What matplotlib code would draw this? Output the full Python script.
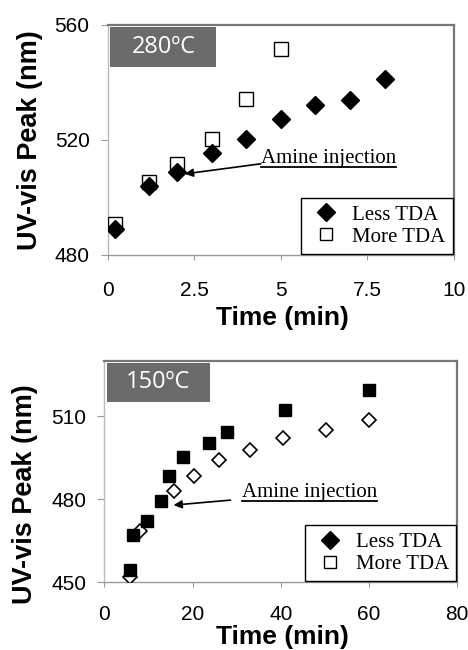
import matplotlib
matplotlib.use('Agg')
import matplotlib.pyplot as plt
from matplotlib.lines import Line2D
from matplotlib.patches import Rectangle

plt.rcParams.update({'font.family': 'Liberation Sans'})

# 280 C panel
t280_less = [0.2, 1.2, 2, 3, 4, 5, 6, 7, 8]
peak280_less = [489, 504, 509, 515.4, 520.2, 527.3, 532.2, 533.9, 541.1]
t280_more = [0.2, 1.2, 2, 3, 4, 5]
peak280_more = [490.8, 505.5, 511.5, 520.3, 534.1, 551.5]

# 150 C panel
t150_less = [5.8, 6.6, 9.7, 12.8, 14.7, 17.8, 23.7, 27.9, 40.9, 59.9]
peak150_less = [454.5, 467.1, 472.1, 479.2, 488.3, 495.4, 500.4, 504.3, 512.3, 519.3]
t150_more = [5.8, 8.1, 15.8, 20.3, 26.1, 33.0, 40.5, 50.2, 60.0]
peak150_more = [451.8, 468.4, 483.1, 488.3, 494.3, 497.9, 502.2, 505.1, 508.5]

fig = plt.figure(figsize=(4.68, 6.5), dpi=100)
ax1 = fig.add_axes([0.230, 0.6077, 0.740, 0.354])
ax2 = fig.add_axes([0.223, 0.104, 0.754, 0.341])


def style(ax, xpad, xlab_y, ylab_y, box_w, label):
    for s in ['top', 'right']:
        ax.spines[s].set_color('#777777'); ax.spines[s].set_linewidth(1.6)
    ax.spines['left'].set_color('#bbbbbb'); ax.spines['left'].set_linewidth(1.0)
    ax.spines['bottom'].set_color('#999999'); ax.spines['bottom'].set_linewidth(1.0)
    ax.tick_params(axis='x', length=3.6, color='#999999', pad=xpad, labelsize=15)
    ax.tick_params(axis='y', length=5, color='#999999', pad=8, labelsize=15)
    ax.set_xlabel('Time (min)', fontsize=19, fontweight='bold')
    ax.set_ylabel('UV-vis Peak (nm)', fontsize=19.5, fontweight='bold')
    ax.xaxis.label.set_va('center'); ax.yaxis.label.set_va('center')
    ax.xaxis.set_label_coords(0.506, xlab_y)
    ax.yaxis.set_label_coords(-0.225, ylab_y)
    ax.add_patch(Rectangle((0.008, 0.816), box_w, 0.176, transform=ax.transAxes,
                           facecolor='#6b6b6b', edgecolor='none', zorder=4))
    ax.text(0.008 + box_w / 2, 0.904, label, transform=ax.transAxes, color='white',
            fontsize=17, family='Open Sans', ha='center', va='center', zorder=5)
    handles = [Line2D([], [], ls='none', marker='D', ms=9, mfc='black', mec='black'),
               Line2D([], [], ls='none', marker='s', ms=8, mfc='white', mec='black', mew=1)]
    leg = ax.legend(handles, ['Less TDA', 'More TDA'], loc='lower right',
                    prop={'family': 'Liberation Serif', 'size': 15}, frameon=True,
                    fancybox=False, borderaxespad=0.05, handletextpad=0.4,
                    labelspacing=0.12, borderpad=0.35, handlelength=1.7)
    leg.get_frame().set_edgecolor('black'); leg.get_frame().set_linewidth(1.0)
    leg.get_frame().set_alpha(1)


# top panel
ax1.plot(t280_more, peak280_more, ls='none', marker='s', ms=9.5, mfc='white',
         mec='black', mew=1, zorder=3)
ax1.plot(t280_less, peak280_less, ls='none', marker='D', ms=9.5, mfc='black',
         mec='black', zorder=3)
ax1.set_xlim(0, 10); ax1.set_ylim(480, 560)
ax1.set_xticks([0, 2.5, 5, 7.5, 10]); ax1.set_xticklabels(['0', '2.5', '5', '7.5', '10'])
ax1.set_yticks([480, 520, 560])
style(ax1, 15, -0.274, 0.5, 0.306, '280ºC')
ax1.annotate('', xy=(2.23, 508.2), xytext=(4.42, 511.7),
             arrowprops=dict(arrowstyle='-|>', color='black', lw=1.2, mutation_scale=12,
                             shrinkA=0, shrinkB=0))
note1 = ax1.text(4.43, 513.4, 'Amine injection', fontsize=15, family='Liberation Serif',
                 ha='left', va='center')

# bottom panel
ax2.plot(t150_more, peak150_more, ls='none', marker='D', ms=7.5, mfc='white',
         mec='black', mew=1.2, zorder=3)
ax2.plot(t150_less, peak150_less, ls='none', marker='s', ms=8, mfc='black',
         mec='black', zorder=3)
ax2.set_xlim(0, 80); ax2.set_ylim(450, 530)
ax2.set_xticks([0, 20, 40, 60, 80])
ax2.set_yticks([450, 480, 510])
style(ax2, 13, -0.245, 0.40, 0.29, '150ºC')
ax2.annotate('', xy=(15.7, 477.9), xytext=(28.6, 479.7),
             arrowprops=dict(arrowstyle='-|>', color='black', lw=1.2, mutation_scale=12,
                             shrinkA=0, shrinkB=0))
note2 = ax2.text(31.1, 482.3, 'Amine injection', fontsize=15, family='Liberation Serif',
                 ha='left', va='center')

# underline the annotation texts
fig.canvas.draw()
inv = fig.transFigure.inverted()
for t in (note1, note2):
    bb = t.get_window_extent()
    (x0, y0), (x1, _) = inv.transform([[bb.x0, bb.y0 + 1], [bb.x1, bb.y0]])
    fig.add_artist(Line2D([x0, x1], [y0, y0], color='black', lw=1.3))

fig.savefig('out.png', dpi=100, facecolor='white')
